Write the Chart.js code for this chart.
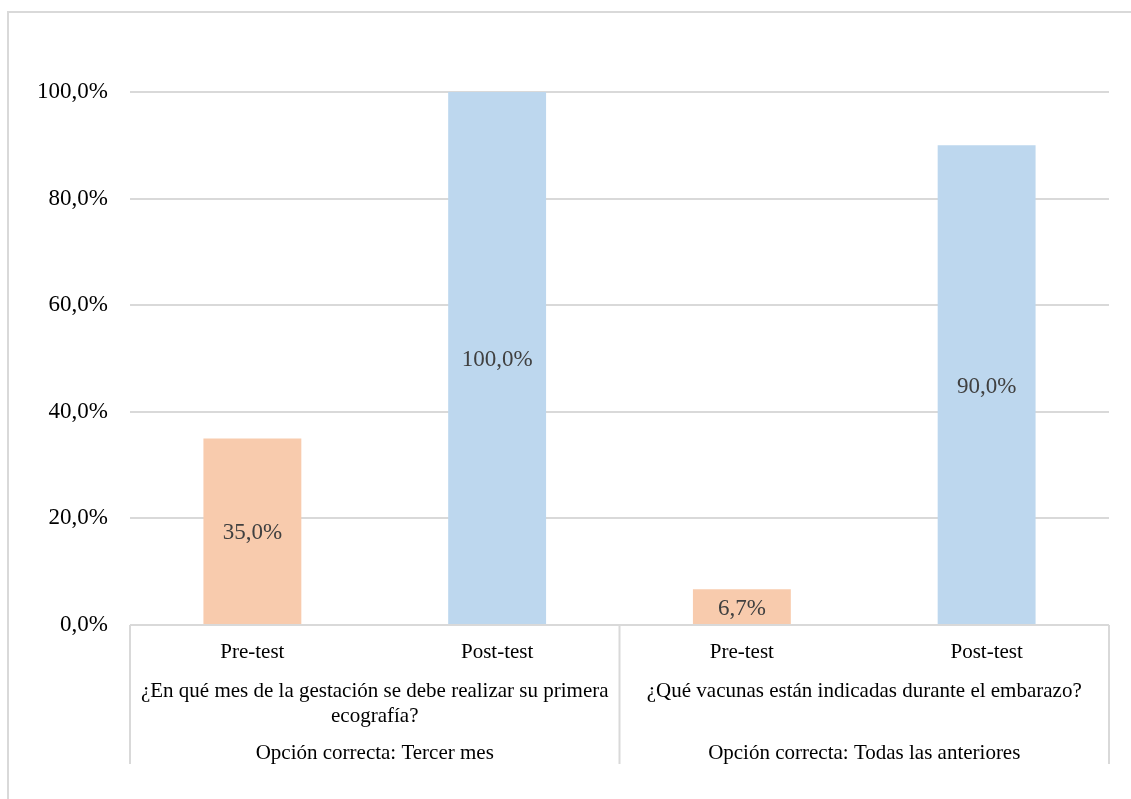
<!DOCTYPE html>
<html>
<head>
<meta charset="utf-8">
<script src="https://cdn.jsdelivr.net/npm/chart.js@4.4.0/dist/chart.umd.min.js"></script>
<style>
  html, body { margin: 0; padding: 0; background: #fff; }
  canvas { display: block; }
</style>
</head>
<body>
<canvas id="c" width="1131" height="799"></canvas>
<script>
// Categories (inner axis level) and their values in percent
const categories = ['Pre-test', 'Post-test', 'Pre-test', 'Post-test'];
const values = [35.0, 100.0, 6.7, 90.0];
const barColors = ['#F8CBAD', '#BDD7EE', '#F8CBAD', '#BDD7EE'];

// Outer axis levels: question (may span two lines) and correct option
const groupQuestions = [
  ['¿En qué mes de la gestación se debe realizar su primera', 'ecografía?'],
  ['¿Qué vacunas están indicadas durante el embarazo?']
];
const groupAnswers = ['Opción correcta: Tercer mes', 'Opción correcta: Todas las anteriores'];
const groupSizes = [2, 2];

const yMin = 0, yMax = 100, yStep = 20;

const SERIF = '"Liberation Serif", "Times New Roman", serif';
const fmtPct = v => v.toFixed(1).replace('.', ',') + '%';

const frameAndLabels = {
  id: 'frameAndLabels',
  afterDatasetsDraw(chart) {
    const ctx = chart.ctx;
    const meta = chart.getDatasetMeta(0);
    ctx.save();
    ctx.font = '23px ' + SERIF;
    ctx.fillStyle = '#404040';
    ctx.textAlign = 'center';
    ctx.textBaseline = 'middle';
    meta.data.forEach((bar, i) => {
      ctx.fillText(fmtPct(values[i]), bar.x, (bar.y + bar.base) / 2 + 2);
    });
    ctx.restore();
  },
  afterDraw(chart) {
    const ctx = chart.ctx;
    const xs = chart.scales.x;
    const area = chart.chartArea;
    ctx.save();
    // outer frame
    ctx.strokeStyle = '#d9d9d9';
    ctx.lineWidth = 2;
    ctx.strokeRect(8, 12, 1200, 900);

    // category axis line and group separators
    ctx.beginPath();
    ctx.moveTo(area.left, area.bottom);
    ctx.lineTo(area.right, area.bottom);
    ctx.stroke();

    const bounds = [area.left];
    let idx = 0;
    groupSizes.forEach(n => {
      idx += n;
      if (idx < categories.length) {
        bounds.push((xs.getPixelForValue(idx - 1) + xs.getPixelForValue(idx)) / 2);
      } else {
        bounds.push(area.right);
      }
    });
    const lineBottom = area.bottom + 139;
    ctx.beginPath();
    bounds.forEach(b => {
      ctx.moveTo(b, area.bottom);
      ctx.lineTo(b, lineBottom);
    });
    ctx.stroke();

    // outer-level labels
    ctx.font = '21px ' + SERIF;
    ctx.fillStyle = '#000';
    ctx.textAlign = 'center';
    ctx.textBaseline = 'middle';
    for (let g = 0; g < groupQuestions.length; g++) {
      const cx = (bounds[g] + bounds[g + 1]) / 2;
      groupQuestions[g].forEach((line, k) => {
        ctx.fillText(line, cx, area.bottom + 66 + k * 25);
      });
      ctx.fillText(groupAnswers[g], cx, area.bottom + 128);
    }
    ctx.restore();
  }
};

new Chart(document.getElementById('c'), {
  type: 'bar',
  data: {
    labels: categories,
    datasets: [{
      data: values,
      backgroundColor: barColors,
      borderWidth: 0,
      categoryPercentage: 1.0,
      barPercentage: 0.4
    }]
  },
  options: {
    responsive: false,
    devicePixelRatio: 1,
    animation: false,
    layout: { padding: { top: 92, right: 22, left: 0, bottom: 0 } },
    plugins: { legend: { display: false }, tooltip: { enabled: false } },
    scales: {
      x: {
        grid: { display: false },
        border: { display: false },
        ticks: {
          color: '#000',
          font: { family: SERIF, size: 21 },
          padding: 7,
          maxRotation: 0
        },
        afterFit(scale) { scale.height = 174; }
      },
      y: {
        min: yMin,
        max: yMax,
        grid: { color: '#d9d9d9', lineWidth: 2, drawTicks: false },
        border: { display: false },
        ticks: {
          stepSize: yStep,
          color: '#000',
          font: { family: SERIF, size: 23 },
          padding: 22,
          callback: v => fmtPct(v)
        },
        afterFit(scale) { scale.width = 130; }
      }
    }
  },
  plugins: [frameAndLabels]
});
</script>
</body>
</html>
